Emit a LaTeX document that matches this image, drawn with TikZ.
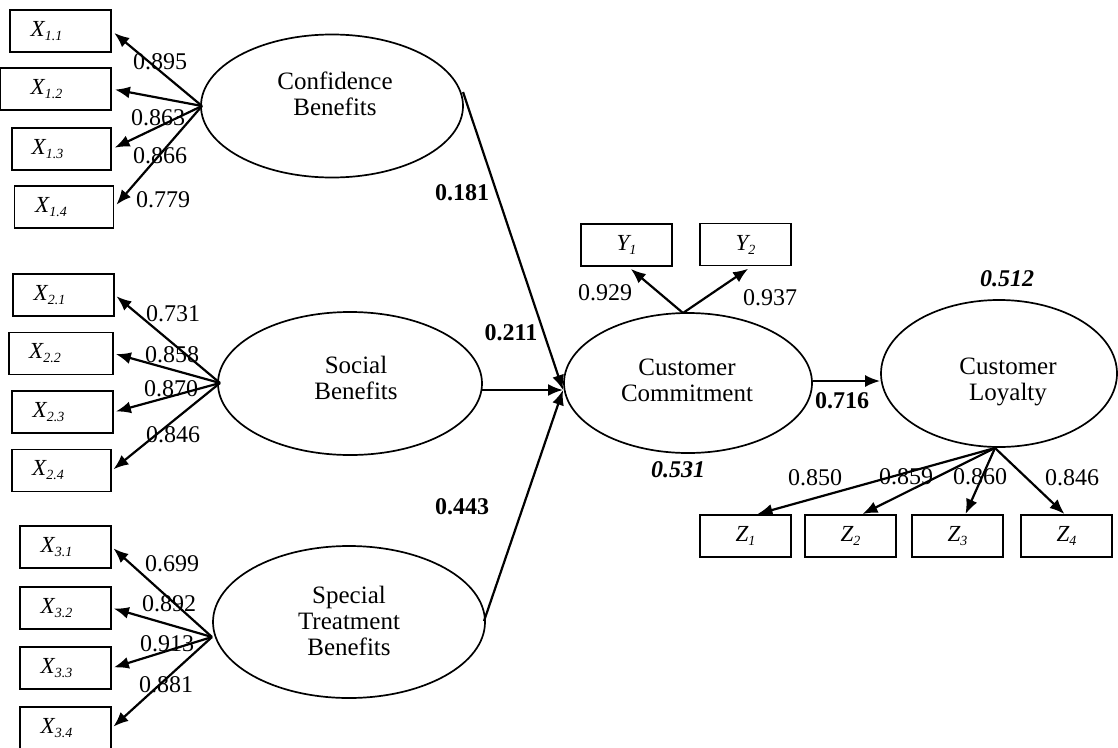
\documentclass[tikz,border=0pt]{standalone}
\usepackage{fontspec}
\setmainfont{Liberation Serif}
\usetikzlibrary{shapes.geometric,arrows.meta,calc}
\newcommand{\ilab}[2]{{\fontsize{23}{23}\selectfont\itshape #1\raisebox{-4pt}{\fontsize{14}{14}\selectfont #2}}}
\tikzset{
 lat/.style={ellipse, draw, line width=1.7pt, inner sep=0pt},
 lattext/.style={align=center, font=\fontsize{25}{26}\selectfont, inner sep=0pt},
 ind/.style={rectangle, draw, line width=1.9pt, inner sep=0pt, minimum height=42pt},
 arr/.style={line width=2.2pt, -{Latex[length=15pt,width=12pt]}},
 coef/.style={font=\fontsize{24}{24}\selectfont, inner sep=0pt},
 bcoef/.style={font=\fontsize{24}{24}\selectfont\bfseries, inner sep=0pt},
 rsq/.style={font=\fontsize{24}{24}\selectfont\bfseries\itshape, inner sep=0pt},
}
\begin{document}
\begin{tikzpicture}[x=1pt,y=-1pt]
\useasboundingbox (0,0) rectangle (1118,747);
% latent variables
\node[lat, minimum width=262pt, minimum height=143pt] (cb) at (332,106) {};
\node[lat, minimum width=264pt, minimum height=143pt] (sb) at (350,383.5) {};
\node[lat, minimum width=272pt, minimum height=152pt] (st) at (349,622) {};
\node[lat, minimum width=248pt, minimum height=140pt] (cc) at (688,383) {};
\node[lat, minimum width=236pt, minimum height=147pt] (cl) at (999,373.5) {};
\node[lattext] (cbt) at (335,94) {Confidence\\Benefits};
\node[lattext] (sbt) at (356,378) {Social\\Benefits};
\node[lattext] (stt) at (349,621) {Special\\Treatment\\Benefits};
\node[lattext] (cct) at (687,380) {Customer\\Commitment};
\node[lattext] (clt) at (1008,382) {Customer\\Loyalty};
% indicators
\node[ind, minimum width=101pt] (x11) at (60.5,31) {\ilab{X}{1.1}\hspace*{28pt}};
\node[ind, minimum width=111pt] (x12) at (55.5,89) {\ilab{X}{1.2}\hspace*{18pt}};
\node[ind, minimum width=99pt] (x13) at (61.5,149) {\ilab{X}{1.3}\hspace*{28pt}};
\node[ind, minimum width=99pt] (x14) at (64,207) {\ilab{X}{1.4}\hspace*{26pt}};
\node[ind, minimum width=101pt] (x21) at (63.5,295) {\ilab{X}{2.1}\hspace*{28pt}};
\node[ind, minimum width=104pt] (x22) at (61,353.5) {\ilab{X}{2.2}\hspace*{32pt}};
\node[ind, minimum width=101pt] (x23) at (62.5,412) {\ilab{X}{2.3}\hspace*{28pt}};
\node[ind, minimum width=99pt] (x24) at (61.5,470.5) {\ilab{X}{2.4}\hspace*{27pt}};
\node[ind, minimum width=91pt] (x31) at (65.5,547) {\ilab{X}{3.1}\hspace*{18pt}};
\node[ind, minimum width=91pt] (x32) at (65.5,608) {\ilab{X}{3.2}\hspace*{18pt}};
\node[ind, minimum width=91pt] (x33) at (65.5,668) {\ilab{X}{3.3}\hspace*{18pt}};
\node[ind, minimum width=91pt] (x34) at (65.5,728) {\ilab{X}{3.4}\hspace*{18pt}};
\node[ind, minimum width=91pt] (y1) at (626.5,245) {\ilab{Y}{1}};
\node[ind, minimum width=91pt] (y2) at (745.5,244.5) {\ilab{Y}{2}};
\node[ind, minimum width=91pt] (z1) at (745.5,536) {\ilab{Z}{1}};
\node[ind, minimum width=91pt] (z2) at (850.5,536) {\ilab{Z}{2}};
\node[ind, minimum width=91pt] (z3) at (957.5,536) {\ilab{Z}{3}};
\node[ind, minimum width=91pt] (z4) at (1066.5,536) {\ilab{Z}{4}};
% connection points
\coordinate (cbo) at (202,106);
\coordinate (sbo) at (220,383);
\coordinate (sto) at (212,637);
\coordinate (cbr) at (463,92);
\coordinate (sbr) at (482,390);
\coordinate (str) at (484,621);
\coordinate (meet) at (563,390);
\coordinate (cco) at (683,313);
\coordinate (clo) at (995,448);
% measurement arrows
\foreach \t in {x11,x12,x13,x14} \draw[arr, shorten >=3pt] (cbo) -- (\t.east);
\foreach \t in {x21,x22,x23,x24} \draw[arr, shorten >=2pt] (sbo) -- (\t.east);
\foreach \t in {x31,x32,x33,x34} \draw[arr, shorten >=2pt] (sto) -- (\t.east);
\draw[arr, shorten >=3pt] (cco) -- ([xshift=2pt]y1.south);
\draw[arr, shorten >=4pt] (cco) -- ([xshift=6pt]y2.south);
\draw[arr] (clo) -- ([xshift=12pt]z1.north);
\draw[arr] (clo) -- ([xshift=12pt]z2.north);
\draw[arr] (clo) -- ([xshift=8pt]z3.north);
\draw[arr] (clo) -- ([xshift=-2pt]z4.north);
% structural arrows
\draw[arr] (cbr) -- (meet);
\draw[arr] (sbr) -- (meet);
\draw[arr] (str) -- (meet);
\draw[arr] (cc.east |- 0,381) -- (cl.west |- 0,381);
% coefficients
\node[coef] (l1) at (160,62) {0.895};
\node[coef] (l2) at (158,118) {0.863};
\node[coef] (l3) at (160,156) {0.866};
\node[coef] (l4) at (163,200) {0.779};
\node[coef] (l5) at (173,314) {0.731};
\node[coef] (l6) at (172,355) {0.858};
\node[coef] (l7) at (171,389) {0.870};
\node[coef] (l8) at (173,435) {0.846};
\node[coef] (l9) at (172,564) {0.699};
\node[coef] (l10) at (169,604) {0.892};
\node[coef] (l11) at (167,644) {0.913};
\node[coef] (l12) at (166,685) {0.881};
\node[coef] (l13) at (605,293) {0.929};
\node[coef] (l14) at (770,298) {0.937};
\node[coef] (l15) at (815,478) {0.850};
\node[coef] (l16) at (906,477) {0.859};
\node[coef] (l17) at (980,477) {0.860};
\node[coef] (l18) at (1072,478) {0.846};
\node[bcoef] (p1) at (462,193) {0.181};
\node[bcoef] (p2) at (511,333) {0.211};
\node[bcoef] (p3) at (462,507) {0.443};
\node[bcoef] (p4) at (842,401) {0.716};
\node[rsq] (r1) at (678,470) {0.531};
\node[rsq] (r2) at (1007,279) {0.512};
\end{tikzpicture}
\end{document}
